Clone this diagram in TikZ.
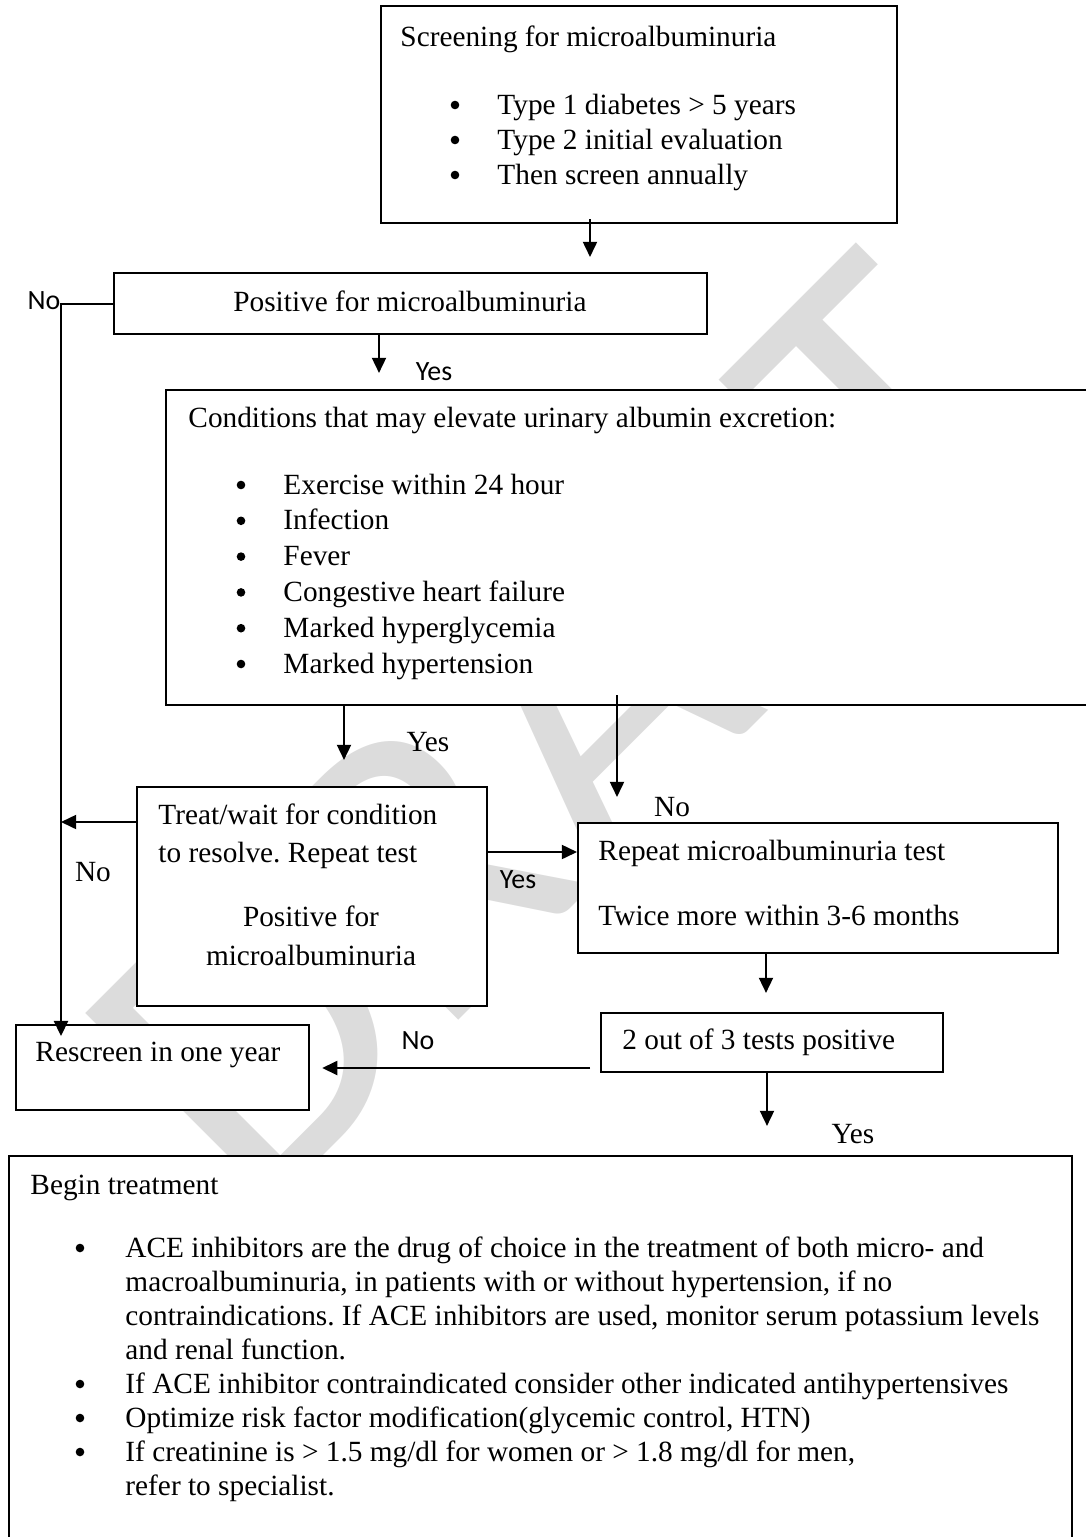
\documentclass[tikz,border=0pt]{standalone}
\usepackage{fontspec}
\setmainfont{Liberation Serif}
\newfontfamily\lblfont{Carlito}
\newfontfamily\wmfont{Carlito}
\usetikzlibrary{arrows.meta}
\frenchspacing

\newlength\pxl
\setlength\pxl{0.43pt}
\definecolor{wmgray}{RGB}{220,220,220}

\tikzset{
  box/.style={draw, fill=white, line width=0.9pt, anchor=north west, inner sep=0pt},
  txt/.style={anchor=base west, inner sep=0pt, font=\fontsize{12.6}{14}\selectfont},
  ctxt/.style={txt, anchor=base},
  bul/.style={circle, fill=black, inner sep=0pt, minimum size=3.7pt},
  lbl/.style={anchor=base, inner sep=0pt, font=\lblfont\fontsize{12}{13}\selectfont},
  arr/.style={line width=0.9pt, -{Triangle[width=6pt,length=6.5pt]}},
}

\begin{document}
\begin{tikzpicture}[x=0.43pt, y=-0.43pt]
\useasboundingbox (0,0) rectangle (1085,1537);

% watermark
\node[font=\wmfont\fontsize{180}{180}\selectfont, text=wmgray, rotate=45] (wm) at (558,731) {DRAFT};

% boxes
\node[box, minimum width=516*\pxl, minimum height=217*\pxl] (scr) at (380,5) {};
\node[box, minimum width=593*\pxl, minimum height=61*\pxl] (pos) at (113,272) {};
\node[box, minimum width=960*\pxl, minimum height=315*\pxl] (cond) at (165,389) {};
\node[box, minimum width=350*\pxl, minimum height=219*\pxl] (treat) at (136,786) {};
\node[box, minimum width=480*\pxl, minimum height=130*\pxl] (rep) at (577,822) {};
\node[box, minimum width=342*\pxl, minimum height=59*\pxl] (two) at (600,1012) {};
\node[box, minimum width=293*\pxl, minimum height=85*\pxl] (resc) at (15,1024) {};
\node[box, minimum width=1063*\pxl, minimum height=420*\pxl] (trt) at (8,1155) {};

% screening
\node[txt] (scrt) at (400,46) {Screening for microalbuminuria};
\foreach \t [count=\i] in {Type 1 diabetes > 5 years, Type 2 initial evaluation, Then screen annually}{
  \node[bul] (scrb\i) at (455,70+35*\i) {};
  \node[txt] (scri\i) at (497,79+35*\i) {\t};
}

\node[ctxt] (post) at (410,311) {Positive for microalbuminuria};

% conditions
\node[txt] (condt) at (188,427) {Conditions that may elevate urinary albumin excretion:};
\foreach \t [count=\i] in {Exercise within 24 hour, Infection, Fever, Congestive heart failure, Marked hyperglycemia, Marked hypertension}{
  \node[bul] (condb\i) at (241,449.2+35.8*\i) {};
  \node[txt] (condi\i) at (283,458.2+35.8*\i) {\t};
}

% treat / wait
\node[txt] (treat1) at (158,824) {Treat/wait for condition};
\node[txt] (treat2) at (158,862) {to resolve. Repeat test};
\node[ctxt] (treat3) at (311,926) {Positive for};
\node[ctxt] (treat4) at (311,965) {microalbuminuria};

% repeat
\node[txt] (rep1) at (598,860) {Repeat microalbuminuria test};
\node[txt] (rep2) at (598,925) {Twice more within 3-6 months};

\node[txt] (twot) at (622,1049) {2 out of 3 tests positive};
\node[txt] (resct) at (35,1061) {Rescreen in one year};

% treatment
\node[txt] (trtt) at (30,1194) {Begin treatment};
\foreach \t [count=\i] in {ACE inhibitors are the drug of choice in the treatment of both micro- and,
    {macroalbuminuria, in patients with or without hypertension, if no},
    {contraindications. If ACE inhibitors are used, monitor serum potassium levels},
    and renal function.,
    If ACE inhibitor contraindicated consider other indicated antihypertensives,
    {Optimize risk factor modification(glycemic control, HTN)},
    {If creatinine is > 1.5 mg/dl for women or > 1.8 mg/dl for men,},
    refer to specialist.}{
  \node[txt] (trti\i) at (125,1223+34*\i) {\t};
}
\foreach \i in {1,5,6,7}{
  \node[bul] (trtb\i) at (80,1214+34*\i) {};
}

% connectors
\coordinate (nocorner) at ([shift={(-52,0)}]pos.west);
\draw[arr, shorten >=6.45pt] ([shift={(210,-5)}]scr.south west) coordinate (s1) -- (s1 |- pos.north);
\draw[arr, shorten >=-5.2pt] (pos.west) -- (nocorner) -- (nocorner |- resc.north);
\draw[arr, shorten >=6.9pt] ([shift={(266,0)}]pos.south west) coordinate (s2) -- (s2 |- cond.north);
\draw[arr, shorten >=11.2pt] ([shift={(179,0)}]cond.south west) coordinate (s3) -- (s3 |- treat.north);
\draw[arr, shorten >=10.75pt] ([shift={(452,-11)}]cond.south west) coordinate (s4) -- (s4 |- rep.north);
\draw[arr] ([shift={(0,36)}]treat.north west) coordinate (s5) -- (s5 -| nocorner);
\draw[arr] ([shift={(0,66)}]treat.north east) coordinate (s6) -- (s6 -| rep.west);
\draw[arr, shorten >=8.2pt] ([shift={(189,0)}]rep.south west) coordinate (s7) -- (s7 |- two.north);
\draw[arr, shorten <=4.3pt, shorten >=5.2pt] ([shift={(0,56)}]two.north west) coordinate (s8) -- (s8 -| resc.east);
\draw[arr, shorten >=12.5pt] ([shift={(167,0)}]two.south west) coordinate (s9) -- (s9 |- trt.north);

% labels
\node[lbl] (no1) at (44,309) {No};
\node[lbl] (yes1) at (434,380) {Yes};
\node[ctxt] (yes2) at (428,751) {Yes};
\node[ctxt] (no2) at (672,816) {No};
\node[ctxt] (no3) at (93,881) {No};
\node[lbl] (yes3) at (518,888) {Yes};
\node[lbl, fill=white, inner sep=3pt] (no4) at (418,1049) {No};
\node[ctxt] (yes4) at (853,1143) {Yes};
\end{tikzpicture}
\end{document}
